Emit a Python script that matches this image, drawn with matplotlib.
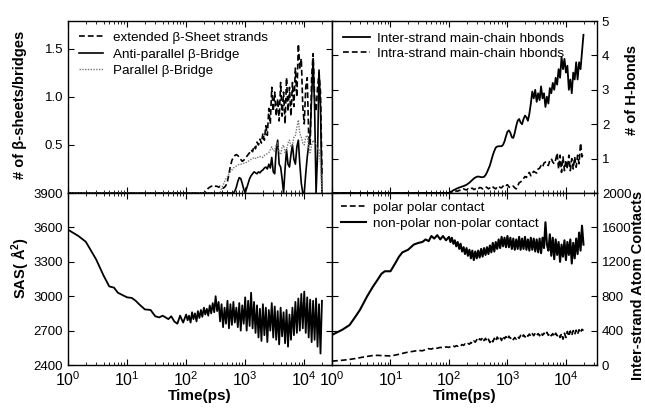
import matplotlib.pyplot as plt
import numpy as np
from matplotlib.ticker import LogLocator, NullFormatter, FixedLocator

plt.rcParams['font.family'] = ['Liberation Sans', 'DejaVu Sans']
plt.rcParams['mathtext.fontset'] = 'custom'
plt.rcParams['mathtext.rm'] = 'Liberation Sans'
plt.rcParams['mathtext.bf'] = 'Liberation Sans:bold'

# time points (ps)
time_ps = [1, 1.5, 2, 2.5, 3, 4, 5, 6, 7, 8,
           10, 12, 14, 16, 20, 25, 30, 35, 40, 45,
           50, 56, 63, 71, 79, 89,
           100, 106, 112, 119, 126, 133, 141, 150, 158, 168,
           178, 188, 200, 211, 224, 237, 251, 266, 282, 299,
           316, 335, 355, 376, 398, 422, 447, 473, 501, 531,
           562, 596, 631, 668, 708, 750, 794, 841, 891, 944,
           1000, 1059, 1122, 1189, 1259, 1334, 1413, 1496, 1585, 1679,
           1778, 1884, 1995, 2113, 2239, 2371, 2512, 2661, 2818, 2985,
           3162, 3350, 3548, 3758, 3981, 4217, 4467, 4732, 5012, 5309,
           5623, 5957, 6310, 6683, 7079, 7499, 7943, 8414, 8913, 9441,
           10000, 10593, 11220, 11885, 12589, 13335, 14125, 14962, 15849, 16788,
           17783, 18836, 19953]

# top-left: number of beta sheets / bridges
ext_sheet = [0] * 26 + [
    0, 0, 0, 0, 0, 0, 0, 0, 0, 0,
    0, 0, 0, 0.01, 0.03, 0.05, 0.06, 0.07, 0.07, 0.08,
    0.07, 0.07, 0.06, 0.07, 0.06, 0.05, 0.06, 0.08, 0.12, 0.2,
    0.28, 0.34, 0.37, 0.39, 0.4, 0.39, 0.37, 0.35, 0.33, 0.34,
    0.36, 0.38, 0.4, 0.42, 0.45, 0.43, 0.49, 0.46, 0.53, 0.5,
    0.56, 0.52, 0.62, 0.55, 0.7, 0.6, 0.88, 0.72, 1.1, 0.85,
    1.05, 0.8, 0.98, 0.75, 1.15, 0.8, 1.05, 0.72, 1.2, 0.85,
    1.1, 0.8, 1.15, 0.9, 1.3, 1.0, 1.55, 1.3, 1.4, 0.9,
    0.72, 1.1, 1.2, 0.6, 0.5, 1.2, 1.45, 1.0, 0.85, 1.1,
    1.25, 1.05, 0.2]
anti_bridge = [0] * 26 + [
    0, 0, 0, 0, 0, 0, 0, 0, 0, 0,
    0, 0, 0, 0, 0, 0, 0, 0, 0, 0,
    0, 0, 0, 0, 0, 0, 0, 0, 0, 0,
    0, 0, 0, 0.02, 0.06, 0.12, 0.16, 0.15, 0.1, 0.04,
    0.0, 0.05, 0.1, 0.15, 0.18, 0.2, 0.22, 0.21, 0.2, 0.22,
    0.21, 0.23, 0.24, 0.26, 0.27, 0.25, 0.3, 0.26, 0.37, 0.22,
    0.2, 0.45, 0.55, 0.3, 0.27, 0.15, 0.0, 0.25, 0.45, 0.3,
    0.27, 0.4, 0.5, 0.35, 0.3, 0.48, 0.55, 0.3, 0.1, 0.0,
    0.0, 0.2, 0.37, 0.5, 0.6, 1.0, 1.4, 0.9, 0.0, 0.4,
    1.28, 0.9, 0.0]
para_bridge = [0] * 26 + [
    0, 0, 0, 0, 0, 0, 0, 0, 0, 0,
    0, 0, 0, 0, 0, 0, 0, 0, 0, 0,
    0, 0, 0, 0, 0.05, 0.08, 0.12, 0.15, 0.17, 0.2,
    0.22, 0.24, 0.26, 0.27, 0.28, 0.29, 0.3, 0.3, 0.3, 0.31,
    0.31, 0.32, 0.33, 0.34, 0.35, 0.36, 0.37, 0.36, 0.36, 0.38,
    0.38, 0.37, 0.37, 0.39, 0.4, 0.41, 0.42, 0.45, 0.48, 0.44,
    0.44, 0.5, 0.52, 0.42, 0.4, 0.48, 0.5, 0.42, 0.45, 0.52,
    0.55, 0.48, 0.5, 0.58, 0.6, 0.68, 0.76, 0.62, 0.58, 0.52,
    0.5, 0.58, 0.6, 0.48, 0.42, 0.5, 0.55, 0.52, 0.5, 0.46,
    0.45, 0.3, 0.0]

# top-right: main-chain hbonds
inter_hb = [0] * 26 + [
    0, 0.03, 0.05, 0.08, 0.1, 0.12, 0.14, 0.16, 0.17, 0.19,
    0.2, 0.22, 0.24, 0.27, 0.3, 0.34, 0.38, 0.42, 0.45, 0.47,
    0.48, 0.47, 0.46, 0.46, 0.47, 0.52, 0.6, 0.7, 0.8, 0.95,
    1.1, 1.22, 1.32, 1.35, 1.36, 1.36, 1.36, 1.4, 1.5, 1.65,
    1.78, 1.82, 1.75, 1.62, 1.6, 1.75, 1.95, 2.1, 2.15, 2.05,
    2.0, 2.15, 2.25, 2.2, 2.1, 2.3, 2.6, 2.95, 2.75, 3.0,
    2.65, 2.9, 2.7, 3.1, 2.75, 2.9, 2.5, 2.8, 2.6, 3.05,
    2.9, 3.2, 3.0, 3.35, 3.15, 3.6, 3.35, 3.95, 3.6, 3.9,
    3.5, 3.7, 3.0, 3.3, 2.9, 3.5, 3.3, 3.8, 3.3, 3.8,
    3.6, 4.1, 4.6]
intra_hb = [0] * 26 + [
    0, 0.02, 0.03, 0.05, 0.04, 0.06, 0.05, 0.08, 0.07, 0.1,
    0.12, 0.1, 0.09, 0.12, 0.1, 0.13, 0.14, 0.1, 0.12, 0.15,
    0.12, 0.16, 0.15, 0.12, 0.14, 0.18, 0.16, 0.12, 0.15, 0.2,
    0.18, 0.14, 0.12, 0.18, 0.2, 0.16, 0.15, 0.2, 0.25, 0.22,
    0.24, 0.18, 0.15, 0.18, 0.2, 0.15, 0.12, 0.2, 0.3, 0.32,
    0.36, 0.42, 0.48, 0.45, 0.55, 0.6, 0.5, 0.58, 0.63, 0.6,
    0.58, 0.7, 0.72, 0.8, 0.75, 0.87, 0.9, 0.82, 0.8, 0.95,
    1.0, 0.9, 0.85, 0.97, 1.16, 0.7, 1.1, 0.6, 1.05, 0.65,
    0.95, 0.7, 1.1, 0.65, 1.0, 0.7, 1.05, 0.75, 1.1, 0.85,
    1.45, 1.05, 1.15]

# bottom-left: solvent accessible surface (A^2)
sas = [3580, 3525, 3475, 3390, 3320, 3180, 3085, 3075, 3030, 3015,
       2990, 2985, 2960, 2930, 2885, 2880, 2825, 2815, 2830, 2815,
       2800, 2825, 2780, 2760, 2830, 2770,
       2840, 2790, 2830, 2770, 2860, 2800, 2850, 2780, 2870, 2810,
       2880, 2820, 2900, 2840, 2890, 2830, 2920, 2850, 2940, 2860,
       3000, 2870, 2950, 2780, 2930, 2730, 2900, 2760, 2960, 2720,
       2930, 2750, 2950, 2770, 2900, 2730, 2940, 2700, 2920, 2760,
       2990, 2700, 2960, 2740, 3030, 2720, 2950, 2680, 2920, 2640,
       2890, 2610, 2930, 2660, 2900, 2600, 2880, 2700, 2940, 2640,
       2910, 2620, 2870, 2580, 2900, 2650, 2860, 2590, 2880, 2560,
       2840, 2620, 2900, 2660, 2950, 2680, 2980, 2700, 3020, 2720,
       3040, 2680, 2990, 2640, 2970, 2600, 2960, 2620, 2980, 2560,
       2930, 2500, 2960]

# bottom-right: inter-strand atom contacts
polar_ct = [45, 55, 65, 75, 85, 100, 110, 112, 110, 108,
            105, 115, 125, 135, 150, 160, 170, 165, 180, 190,
            185, 200, 195, 205, 200, 210,
            205, 215, 210, 220, 212, 225, 218, 230, 222, 238,
            228, 245, 235, 250, 242, 262, 250, 280, 265, 295,
            275, 305, 290, 320, 285, 310, 275, 300, 262, 295,
            270, 310, 280, 325, 295, 320, 285, 335, 305, 330,
            300, 335, 310, 325, 295, 320, 300, 330, 310, 345,
            320, 350, 325, 355, 335, 360, 335, 365, 340, 370,
            345, 365, 340, 375, 345, 370, 350, 380, 345, 370,
            340, 365, 330, 370, 340, 360, 320, 365, 300, 370,
            320, 390, 335, 395, 345, 400, 355, 405, 360, 410,
            375, 415, 400]
nonpolar_ct = [350, 410, 465, 560, 640, 800, 910, 990, 1060, 1090,
               1090, 1180, 1260, 1310, 1340, 1400, 1420, 1430, 1460, 1440,
               1500, 1470, 1510, 1460, 1500, 1450,
               1490, 1430, 1480, 1410, 1450, 1380, 1430, 1350, 1410, 1320,
               1370, 1290, 1360, 1270, 1340, 1240, 1330, 1220, 1320, 1240,
               1330, 1250, 1350, 1260, 1360, 1280, 1370, 1290, 1390, 1310,
               1420, 1320, 1430, 1350, 1460, 1360, 1490, 1380, 1480, 1370,
               1500, 1370, 1480, 1350, 1470, 1340, 1460, 1350, 1490, 1340,
               1470, 1350, 1490, 1340, 1460, 1330, 1480, 1340, 1470, 1320,
               1460, 1310, 1470, 1300, 1480, 1360, 1660, 1400, 1330, 1520,
               1270, 1480, 1230, 1460, 1280, 1430, 1200, 1400, 1260, 1450,
               1220, 1430, 1280, 1460, 1180, 1420, 1240, 1470, 1290, 1540,
               1330, 1620, 1400]

fig = plt.figure(figsize=(6.45, 4.08), dpi=100)
L, M, R = 68 / 645, 332 / 645, 597 / 645
B, H, T = 1 - 365 / 408, 1 - 193 / 408, 1 - 21 / 408
ax_tl = fig.add_axes([L, H, M - L, T - H])
ax_tr = fig.add_axes([M, H, R - M, T - H])
ax_bl = fig.add_axes([L, B, M - L, H - B])
ax_br = fig.add_axes([M, B, R - M, H - B])

lw = 1.2
dash = (0, (3.5, 1.8))
ax_tl.plot(time_ps, ext_sheet, color='black', lw=lw, ls=dash,
           label='extended β-Sheet strands')
ax_tl.plot(time_ps, anti_bridge, color='black', lw=lw, label='Anti-parallel β-Bridge')
ax_tl.plot(time_ps, para_bridge, color='#777777', lw=1.0, ls=(0, (1, 1)),
           label='Parallel β-Bridge')

ax_tr.plot(time_ps, inter_hb, color='black', lw=1.3, label='Inter-strand main-chain hbonds')
ax_tr.plot(time_ps, intra_hb, color='black', lw=lw, ls=dash,
           label='Intra-strand main-chain hbonds')

ax_bl.plot(time_ps, sas, color='black', lw=1.3)

ax_br.plot(time_ps, polar_ct, color='black', lw=lw, ls=dash, label='polar polar contact')
ax_br.plot(time_ps, nonpolar_ct, color='black', lw=1.5, label='non-polar non-polar contact')

for ax in (ax_tl, ax_tr, ax_bl, ax_br):
    ax.set_xscale('log')
    ax.xaxis.set_major_locator(LogLocator(base=10, numticks=10))
    ax.xaxis.set_minor_locator(LogLocator(base=10, subs=np.arange(2, 10), numticks=10))
    ax.xaxis.set_minor_formatter(NullFormatter())
    ax.tick_params(which='both', direction='in', top=True, bottom=True,
                   left=True, right=True, labelsize=9.5)
    ax.tick_params(which='major', length=4, width=0.8)
    ax.tick_params(which='minor', length=2, width=0.6)
    ax.tick_params(axis='x', labelsize=11.5)
    for sp in ax.spines.values():
        sp.set_linewidth(1.0)

ax_tl.set_xlim(1, 29500)
ax_bl.set_xlim(1, 29500)
ax_tr.set_xlim(1, 34000)
ax_br.set_xlim(1, 34000)

ax_tl.set_ylim(0, 1.79)
ax_tl.yaxis.set_major_locator(FixedLocator([0.5, 1.0, 1.5]))
ax_tl.set_yticklabels(['0.5', '1.0', '1.5'])
ax_tl.tick_params(labelbottom=False)

ax_bl.set_ylim(2400, 3900)
ax_bl.set_yticks([2400, 2700, 3000, 3300, 3600, 3900])

ax_tr.set_ylim(0, 5)
ax_tr.yaxis.set_major_locator(FixedLocator([1, 2, 3, 4, 5]))
ax_tr.set_yticklabels(['1', '2', '3', '4', '5'])
ax_tr.tick_params(labelbottom=False, labelleft=False, labelright=True)

ax_br.set_ylim(0, 2000)
ax_br.set_yticks([0, 400, 800, 1200, 1600, 2000])
ax_br.tick_params(labelleft=False, labelright=True)

for ax in (ax_bl, ax_br):
    ax.set_xlabel('Time(ps)', fontsize=11, fontweight='bold', labelpad=0)

ax_tl.legend(loc='upper left', frameon=False, fontsize=9.7, handlelength=1.8,
             handletextpad=0.75, labelspacing=0.3, borderaxespad=0.4)
ax_tr.legend(loc='upper left', frameon=False, fontsize=9.7, handlelength=2.0,
             handletextpad=0.5, labelspacing=0.2, borderaxespad=0.45)
ax_br.legend(loc='upper left', frameon=False, fontsize=9.7, handlelength=1.9,
             handletextpad=0.5, labelspacing=0.25, borderaxespad=0.25)

fig.text(20 / 645, 1 - 105 / 408, '# of β-sheets/bridges', rotation=90, fontsize=10.5,
         fontweight='bold', ha='center', va='center')
fig.text(20 / 645, 1 - 268 / 408, 'SAS( Å$^{\\mathbf{2}}$)', rotation=90, fontsize=10.5,
         fontweight='bold', ha='center', va='center')
fig.text(632 / 645, 1 - 90 / 408, '# of H-bonds', rotation=90, fontsize=10.5,
         fontweight='bold', ha='center', va='center')
fig.text(638 / 645, 1 - 285 / 408, 'Inter-strand Atom Contacts', rotation=90, fontsize=10.5,
         fontweight='bold', ha='center', va='center')

fig.savefig('out.png', dpi=100)
